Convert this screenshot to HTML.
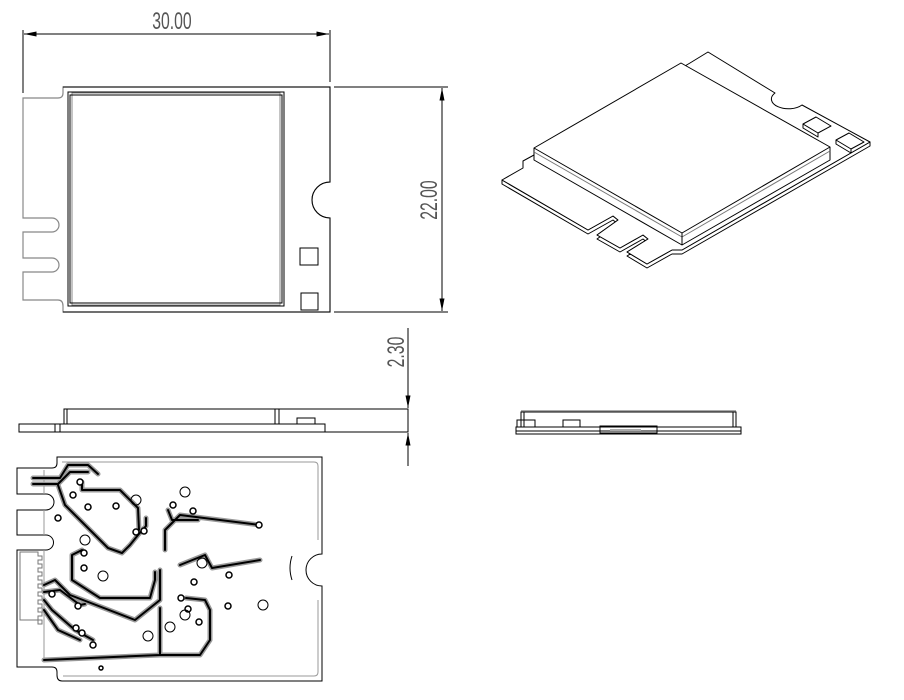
<!DOCTYPE html>
<html><head><meta charset="utf-8"><style>
html,body{margin:0;padding:0;background:#fff;}
svg{display:block;}
text{font-family:"Liberation Sans",sans-serif;fill:#555;}
</style></head><body>
<svg width="904" height="700" viewBox="0 0 904 700" xmlns="http://www.w3.org/2000/svg">
<defs>
<marker id="ar" viewBox="0 0 10 4" refX="10" refY="2" markerWidth="14" markerHeight="5" orient="auto-start-reverse" markerUnits="userSpaceOnUse"><path d="M0,0 L10,2 L0,4z" fill="#000"/></marker>
</defs>
<g fill="none" stroke="#000" stroke-width="1">
<line x1="23" y1="30" x2="23" y2="93"/>
<line x1="330" y1="30" x2="330" y2="82"/>
<line x1="24" y1="34" x2="329" y2="34" marker-start="url(#ar)" marker-end="url(#ar)"/>
<line x1="334" y1="87" x2="448" y2="87"/>
<line x1="334" y1="312" x2="448" y2="312"/>
<line x1="442" y1="88" x2="442" y2="311" marker-start="url(#ar)" marker-end="url(#ar)"/>
</g>
<text transform="translate(172,29) scale(0.75,1.15)" font-size="21" text-anchor="middle">30.00</text>
<text transform="translate(437,200) rotate(-90) scale(0.75,1.15)" font-size="21" text-anchor="middle">22.00</text>

<path d="M63,87 H330 V182 A18,18 0 0 0 330,218 V312 H63 V306 Q63,300 58,300 H23 V272 H52 A7,7 0 0 0 52,258 H23 V232 H52 A7,7 0 0 0 52,218 H23 V98 H58 Q63,98 63,93 Z" fill="none" stroke="#888" stroke-width="1.2"/>
<path d="M63,87 H330 V182 A18,18 0 0 0 330,218 V312 H63" fill="none" stroke="#000" stroke-width="1"/>
<rect x="68" y="92" width="216" height="214" fill="none" stroke="#000"/>
<rect x="72" y="93" width="208" height="212" fill="none" stroke="#888"/>
<rect x="70" y="95" width="212" height="208" fill="none" stroke="#000"/>
<rect x="300" y="248" width="18" height="17" fill="none" stroke="#000"/>
<rect x="301" y="293" width="17" height="17" fill="none" stroke="#000"/>

<g fill="none" stroke="#000" stroke-width="1">
<rect x="19" y="424" width="306" height="8"/>
<line x1="55" y1="424" x2="55" y2="432"/><line x1="60" y1="424" x2="60" y2="432"/>
<rect x="64" y="409" width="215" height="15"/>
<line x1="67" y1="409" x2="67" y2="424"/><line x1="275" y1="409" x2="275" y2="424"/>
<rect x="297" y="418" width="18" height="6"/>
<polyline points="279,409 408,409 408,432 325,432"/>
<line x1="408" y1="328" x2="408" y2="408" marker-end="url(#ar)"/>
<line x1="408" y1="466" x2="408" y2="433" marker-end="url(#ar)"/>
</g>
<text transform="translate(404,352) rotate(-90) scale(0.75,1.15)" font-size="21" text-anchor="middle">2.30</text>

<g fill="none" stroke="#000" stroke-width="1">
<line x1="521" y1="411" x2="736" y2="411" stroke="#aaa" stroke-width="2"/>
<rect x="516" y="427" width="225" height="7"/>
<line x1="516" y1="431" x2="741" y2="431"/>
<rect x="521" y="412" width="215" height="15"/>
<line x1="524" y1="412" x2="524" y2="427"/><line x1="733" y1="412" x2="733" y2="427"/>
<rect x="517" y="420" width="18" height="7"/>
<rect x="563" y="420" width="17" height="7"/>
<rect x="600" y="426" width="57" height="7"/>
<line x1="610" y1="430" x2="641" y2="430" stroke="#aaa" stroke-width="2"/>
</g>

<!-- isometric -->
<g fill="#fff" stroke="#000" stroke-width="1" stroke-linejoin="round">
<polygon transform="translate(0,4)" points="502,180 588,230 613,216 618,220 597,235 620,248 643,235 648,239 627,252 647,264 672,250 682,250 870,142 870,138 682,246 672,246 647,260 627,248 648,235 643,231 620,244 597,231 618,216 613,212 588,226 502,176"/>
<path d="M502,180 L523,168 L523,161 L534,155 L690,63 L708,52 L775,93 A14,8 0 0 0 802,105 L870,142 L682,250 L672,250 L647,264 L627,252 L648,239 L643,235 L620,248 L597,235 L618,220 L613,216 L588,230 Z"/>
<polygon points="534,148 681,63 830,147 830,160 682,245 534,160" fill="#fff"/>
<polyline points="534,148 682,233 830,147" fill="none"/>
<polyline points="534,152 682,237 830,151" fill="none" stroke="#777"/>
<line x1="682" y1="233" x2="682" y2="245"/>
<polygon points="803,124 816,117 831,126 818,133"/>
<polyline points="803,124 803,128 818,137 818,133" fill="none"/>
<polygon points="836,140 849,133 864,142 851,149"/>
<polyline points="836,140 836,144 851,153 851,149" fill="none"/>
</g>

<!-- bottom PCB -->
<g fill="none" stroke="#000" stroke-width="1">
<path d="M57,457 H322 V554 A16,16 0 0 0 322,586 V681 H62 Q57,681 57,675 V672 Q57,667 52,667 H17 V550 H46 A7,7 0 0 0 46,535 H17 V510 H46 A7,7 0 0 0 46,494 H17 V468 H52 Q57,468 57,463 Z"/>
<path d="M62,462 H314 Q318,462 318,466 V540 M318,600 V672 Q318,676 314,676 H63" stroke="#999"/>
<path d="M44,470 V494 M44,510 V535" stroke="#999"/>
<path d="M44,550 V660 H60" stroke="#999"/>
<path d="M292,556 Q288,568 292,580" />
</g>
<path d="M20,552 H38 V556 H42 V560 H38 V564 H42 V568 H38 V572 H42 V576 H38 V580 H42 V584 H38 V588 H42 V592 H38 V596 H42 V600 H38 V604 H42 V608 H38 V612 H42 V616 H38 V620 H42 V624 H38 V620 H20 Z" fill="none" stroke="#777"/>
<g fill="none" stroke-linecap="round" stroke-linejoin="round">
<g stroke="#999" stroke-width="5">
<polyline points="33,478 60,478 68,465 88,465 98,474"/>
<polyline points="33,484 58,484 70,472 88,472"/>
<polyline points="58,485 65,505 108,548 122,553 130,545 138,535 146,526 146,518"/>
<polyline points="82,482 82,490 120,490 138,508 139,530"/>
<polyline points="82,550 72,555 72,580 100,598 150,598 155,580 155,572"/>
<polyline points="44,585 55,580 70,595 135,620 160,600 160,570"/>
<polyline points="44,592 60,590 80,605 85,604"/>
<polyline points="44,600 52,610 75,630 93,640"/>
<polyline points="44,610 58,630 80,640"/>
<polyline points="165,550 165,530 180,515 260,525"/>
<polyline points="168,510 172,520 198,520"/>
<polyline points="180,565 205,555 212,568 260,560"/>
<polyline points="186,598 205,600 210,610 210,640 200,655 160,655"/>
<polyline points="160,608 160,655 44,660"/>
</g>
<g stroke="#000" stroke-width="2">
<polyline points="33,478 60,478 68,465 88,465 98,474"/>
<polyline points="33,484 58,484 70,472 88,472"/>
<polyline points="58,485 65,505 108,548 122,553 130,545 138,535 146,526 146,518"/>
<polyline points="82,482 82,490 120,490 138,508 139,530"/>
<polyline points="82,550 72,555 72,580 100,598 150,598 155,580 155,572"/>
<polyline points="44,585 55,580 70,595 135,620 160,600 160,570"/>
<polyline points="44,592 60,590 80,605 85,604"/>
<polyline points="44,600 52,610 75,630 93,640"/>
<polyline points="44,610 58,630 80,640"/>
<polyline points="165,550 165,530 180,515 260,525"/>
<polyline points="168,510 172,520 198,520"/>
<polyline points="180,565 205,555 212,568 260,560"/>
<polyline points="186,598 205,600 210,610 210,640 200,655 160,655"/>
<polyline points="160,608 160,655 44,660"/>
</g>
</g>
<g fill="#fff" stroke="#000" stroke-width="1.5">
<circle cx="80" cy="482" r="3"/><circle cx="73" cy="495" r="3"/><circle cx="88" cy="507" r="3"/>
<circle cx="116" cy="506" r="3"/><circle cx="58" cy="518" r="3"/><circle cx="136" cy="532" r="3"/>
<circle cx="144" cy="531" r="3"/><circle cx="84" cy="553" r="3"/><circle cx="84" cy="568" r="3"/>
<circle cx="173" cy="505" r="3"/><circle cx="193" cy="511" r="3"/><circle cx="194" cy="582" r="3"/>
<circle cx="259" cy="525" r="3"/><circle cx="181" cy="598" r="3"/><circle cx="188" cy="609" r="3"/>
<circle cx="199" cy="622" r="3"/><circle cx="228" cy="606" r="3"/><circle cx="76" cy="628" r="3"/>
<circle cx="82" cy="633" r="3"/><circle cx="93" cy="645" r="3"/><circle cx="229" cy="575" r="3"/>
<circle cx="52" cy="594" r="3"/><circle cx="78" cy="606" r="3"/><circle cx="101" cy="668" r="2"/>
</g>
<g fill="none" stroke="#000" stroke-width="1">
<circle cx="185" cy="492" r="5"/><circle cx="136" cy="500" r="5"/><circle cx="85" cy="540" r="5"/>
<circle cx="103" cy="576" r="5"/><circle cx="202" cy="563" r="5"/><circle cx="185" cy="615" r="5"/>
<circle cx="170" cy="627" r="5"/><circle cx="263" cy="605" r="5"/><circle cx="148" cy="636" r="5"/>
</g>
</svg>
</body></html>
